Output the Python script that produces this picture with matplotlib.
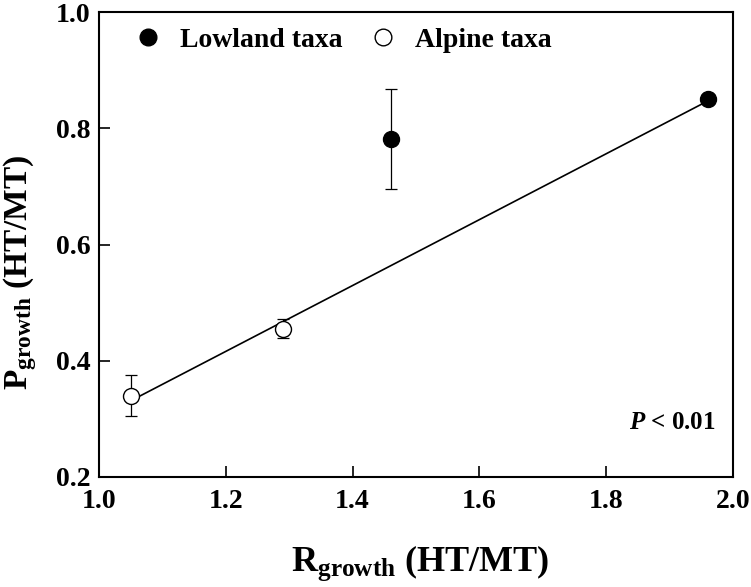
import numpy as np
import matplotlib
matplotlib.use("Agg")
import matplotlib.pyplot as plt
from matplotlib.lines import Line2D

# data
r_growth = [1.05, 1.29, 1.46, 1.96]
p_growth = [0.340, 0.455, 0.782, 0.850]
p_err = [0.035, 0.016, 0.086, 0.008]
taxa = ["Alpine", "Alpine", "Lowland", "Lowland"]
fit_idx = [0, 1, 3]

x_ticks = [1.0, 1.2, 1.4, 1.6, 1.8, 2.0]
y_ticks = [0.2, 0.4, 0.6, 0.8, 1.0]

plt.rcParams["font.family"] = ["Liberation Serif", "DejaVu Serif"]
plt.rcParams["font.weight"] = "bold"
plt.rcParams["mathtext.fontset"] = "custom"
plt.rcParams["mathtext.rm"] = "Liberation Serif:bold"
plt.rcParams["mathtext.bf"] = "Liberation Serif:bold"
plt.rcParams["mathtext.it"] = "Liberation Serif:bold:italic"

fig = plt.figure(figsize=(7.51, 5.87), dpi=100)
ax = fig.add_axes([99 / 751, 1 - 477 / 587, 634 / 751, 465 / 587])

# regression line
xs = np.array([r_growth[i] for i in fit_idx])
ys = np.array([p_growth[i] for i in fit_idx])
k, b = np.polyfit(xs, ys, 1)
xl = np.array([min(r_growth), max(r_growth)])
ax.plot(xl, k * xl + b, color="black", lw=1.2, zorder=2)

for x, y, e, t in zip(r_growth, p_growth, p_err, taxa):
    face = "black" if t == "Lowland" else "white"
    ax.errorbar(x, y, yerr=e, fmt="none", ecolor="black", elinewidth=0.9,
                capsize=4, capthick=0.9, zorder=3)
    ax.plot(x, y, "o", ms=11.5, mfc=face, mec="black", mew=1.0, zorder=4)

ax.set_xlim(1.0, 2.0)
ax.set_ylim(0.2, 1.0)
ax.set_xticks(x_ticks)
ax.set_yticks(y_ticks)
ax.set_xticklabels([f"{v:.1f}" for v in x_ticks])
ax.set_yticklabels([f"{v:.1f}" for v in y_ticks])
ax.tick_params(direction="in", length=8, width=1.2, labelsize=20)
ax.tick_params(axis="x", pad=9)
ax.tick_params(axis="y", pad=6)
for s in ax.spines.values():
    s.set_linewidth(1.5)

ax.set_xlabel(r"R$_{\mathrm{growth}}$ (HT/MT)", fontsize=26, fontweight="bold")
ax.set_ylabel(r"P$_{\mathrm{growth}}$ (HT/MT)", fontsize=24, fontweight="bold")
ax.xaxis.set_label_coords(0.506, -0.142)
ax.yaxis.set_label_coords(-0.094, 0.44)

ax.text(0.973, 0.118, r"$\mathit{P}$ < 0.01", transform=ax.transAxes,
        ha="right", va="center", fontsize=18, fontweight="bold")

handles = [
    Line2D([], [], ls="none", marker="o", ms=12, mfc="black", mec="black"),
    Line2D([], [], ls="none", marker="o", ms=12, mfc="white", mec="black"),
]
ax.legend(handles, ["Lowland taxa", "Alpine taxa"], loc="upper left",
          bbox_to_anchor=(0.038, 0.99), borderaxespad=0, ncol=2, frameon=False,
          prop={"size": 20, "weight": "bold"}, handlelength=1.0,
          handletextpad=0.65, columnspacing=0.97)

fig.savefig("out.png", dpi=100)
